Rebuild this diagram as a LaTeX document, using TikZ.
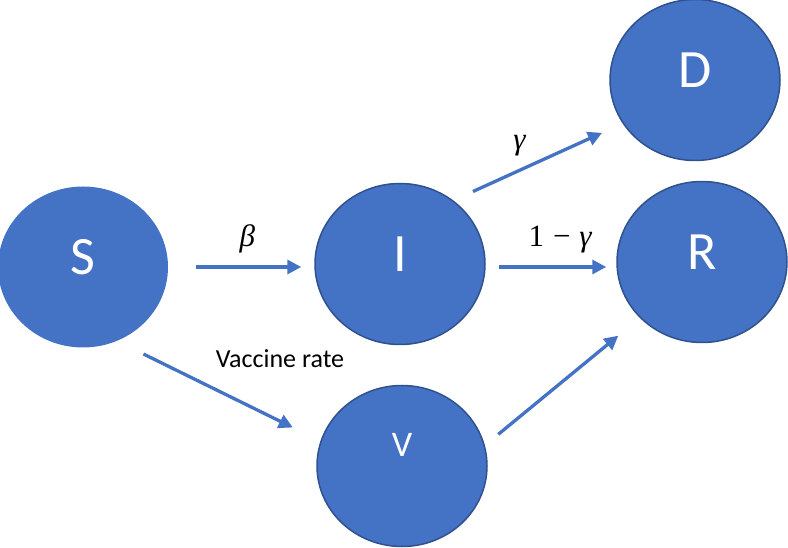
\documentclass[tikz,border=0pt]{standalone}
\usepackage{fontspec}
\setmainfont{Carlito}
\newfontfamily\greekfont{Liberation Serif}
\usepackage{tikz}
\usetikzlibrary{shapes.geometric,arrows.meta}
\definecolor{fillblue}{HTML}{4472C4}
\definecolor{edgeblue}{HTML}{2F528F}

\begin{document}
\begin{tikzpicture}[x=1pt,y=-1pt,
  state/.style={ellipse,fill=fillblue,draw=edgeblue,line width=1.5pt,
    minimum width=170pt,minimum height=161pt,text=white,
    font=\fontsize{54}{60}\selectfont,text depth=20pt},
  flow/.style={draw=fillblue,line width=3.3pt,-{Triangle[length=14pt,width=14pt]}},
  rate/.style={inner sep=0pt,font=\greekfont\fontsize{31}{36}\selectfont}]
  \useasboundingbox (0,0) rectangle (788,548);
  \node[state,draw=none] (S) at (83,267) {S};
  \node[state] (I) at (400,264) {I};
  \node[state] (D) at (695,80) {D};
  \node[state] (R) at (702,262) {R};
  \node[state,font=\fontsize{36}{40}\selectfont,text depth=42pt] (V) at (402,466) {V};
  \draw[flow,shorten <=27pt,shorten >=13pt] (S.east) -- (S.east -| I.west)
    node[rate,pos=.54,above=12pt] (beta) {\itshape β};
  \draw[flow,shorten <=21.5pt,shorten >=22.6pt] (I.50) -- (D.211)
    node[rate,pos=.39,above=13pt] (death) {\itshape γ};
  \draw[flow,shorten <=13pt,shorten >=10pt] (I.-2) -- (I.-2 -| R.west)
    node[rate,pos=.57,above=12pt] (recov) {1\hspace{9pt}−\hspace{9pt}\itshape γ};
  \draw[flow,shorten <=28.7pt,shorten >=30.7pt] (S.-65) -- (V.163)
    node[pos=.5,xshift=61pt,yshift=33pt,font=\fontsize{26}{30}\selectfont] (vac) {Vaccine rate};
  \draw[flow,shorten <=17.3pt,shorten >=27.9pt] (V.14) -- (R.222);
\end{tikzpicture}
\end{document}
